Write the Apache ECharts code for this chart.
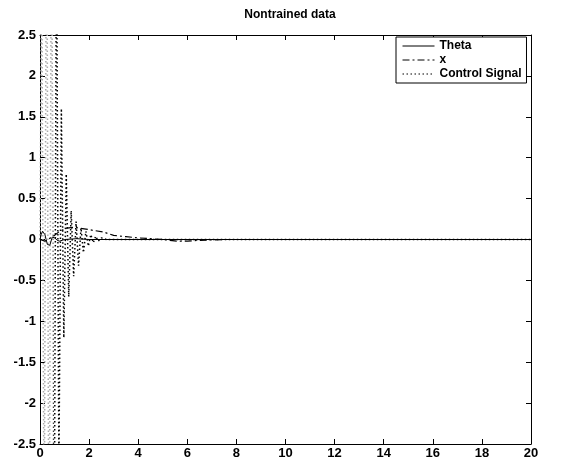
<!DOCTYPE html>
<html><head><meta charset="utf-8">
<script src="https://cdn.jsdelivr.net/npm/echarts@6/dist/echarts.min.js"></script>
<style>html,body{margin:0;padding:0;background:#fff}#c{width:566px;height:466px}</style>
</head><body><div id="c"></div>
<script>
const xTicks = [0,2,4,6,8,10,12,14,16,18,20];
const yTicks = [-2.5,-2,-1.5,-1,-0.5,0,0.5,1,1.5,2,2.5];

const thetaT = [0,0.05,0.1,0.15,0.2,0.25,0.3,0.35,0.4,0.45,0.5,0.55,0.6,0.7,0.8,1.0,1.5,2.0,3.0,20];
const thetaV = [0,0.06,0.1,0.1,0.06,0.0,-0.06,-0.08,-0.07,-0.02,0.03,0.04,0.02,-0.01,-0.02,0,0.01,0,0,0];

const xT = [0,0.2,0.5,0.8,1.1,1.4,1.8,2.2,2.6,3.0,3.5,4.0,5.0,5.6,6.0,6.5,7.5,20];
const xV = [0,-0.02,0.03,0.1,0.14,0.15,0.13,0.11,0.09,0.05,0.035,0.02,0.0,-0.02,-0.02,-0.01,0,0];

const ctrlT = [0,0.07,0.17,0.27,0.37,0.47,0.57,0.67,0.77,0.87,0.97,1.07,1.17,1.27,1.37,1.47,1.57,1.67,1.77,1.87,1.97,2.07,2.17,2.27,2.37,2.5,2.7,3.0,20];
const ctrlV = [0,3.5,-4,5,-5,5,-5,4,-2.8,1.6,-1.2,0.8,-0.7,0.35,-0.45,0.22,-0.32,0.14,-0.16,0.1,-0.08,0.06,-0.04,0.04,-0.02,0.02,0,0,0];

const pairs = (t, v) => t.map((x, i) => [x, v[i]]);
const font = 'Liberation Sans';
const chart = echarts.init(document.getElementById('c'), null, {renderer: 'canvas'});
const axLabel = {fontFamily: font, fontWeight: 'bold', fontSize: 13, color: '#000'};
const axLine = {onZero: false, lineStyle: {color: '#000', width: 1}};
const tick = {inside: true, length: 5, lineStyle: {color: '#000'}};
const ctrlColor = new echarts.graphic.LinearGradient(0, 0, 1, 0, [
  {offset: 0, color: '#aaa'}, {offset: 0.031, color: '#aaa'},
  {offset: 0.033, color: '#000'}, {offset: 1, color: '#000'}
]);
chart.setOption({
  animation: false,
  backgroundColor: '#fff',
  title: {text: 'Nontrained data', left: 285, top: 4, textAlign: 'center',
    textStyle: {fontFamily: font, fontWeight: 'bold', fontSize: 12, color: '#000'}},
  grid: {left: 40, right: 35, top: 35, bottom: 22},
  legend: {
    data: ['Theta', 'x', 'Control Signal'], orient: 'vertical', left: 396, top: 37,
    itemWidth: 32, itemHeight: 12, itemGap: 2,
    itemStyle: {opacity: 0},
    lineStyle: {width: 1, color: '#000'},
    borderColor: '#000', borderWidth: 1, borderRadius: 0, backgroundColor: '#fff',
    padding: [3, 5, 3, 6], z: 10,
    textStyle: {fontFamily: font, fontWeight: 'bold', fontSize: 12, color: '#000'}
  },
  xAxis: [
    {type: 'value', min: 0, max: 20, interval: 2, position: 'bottom',
      axisLine: axLine, axisTick: tick,
      axisLabel: Object.assign({margin: 3}, axLabel), splitLine: {show: false}},
    {type: 'value', min: 0, max: 20, interval: 2, position: 'top',
      axisLine: axLine, axisTick: tick,
      axisLabel: {show: false}, splitLine: {show: false}}
  ],
  yAxis: [
    {type: 'value', min: -2.5, max: 2.5, interval: 0.5, position: 'left',
      axisLine: axLine, axisTick: tick,
      axisLabel: Object.assign({margin: 4}, axLabel), splitLine: {show: false}},
    {type: 'value', min: -2.5, max: 2.5, interval: 0.5, position: 'right',
      axisLine: axLine, axisTick: tick,
      axisLabel: {show: false}, splitLine: {show: false}}
  ],
  series: [
    {name: 'Theta', type: 'line', data: pairs(thetaT, thetaV), showSymbol: false, symbol: 'none',
      lineStyle: {color: '#000', width: 1, type: 'solid'}, itemStyle: {color: '#000'}, z: 4},
    {name: 'x', type: 'line', data: pairs(xT, xV), showSymbol: false, symbol: 'none',
      lineStyle: {color: '#000', width: 1.2, type: [7, 3, 2, 3]}, itemStyle: {color: '#000'}, z: 3},
    {name: 'Control Signal', type: 'line', data: pairs(ctrlT, ctrlV), showSymbol: false, symbol: 'none',
      lineStyle: {color: ctrlColor, width: 1.5, type: [1.5, 2.5]}, itemStyle: {color: '#000'}, z: 2}
  ]
});
</script></body></html>
